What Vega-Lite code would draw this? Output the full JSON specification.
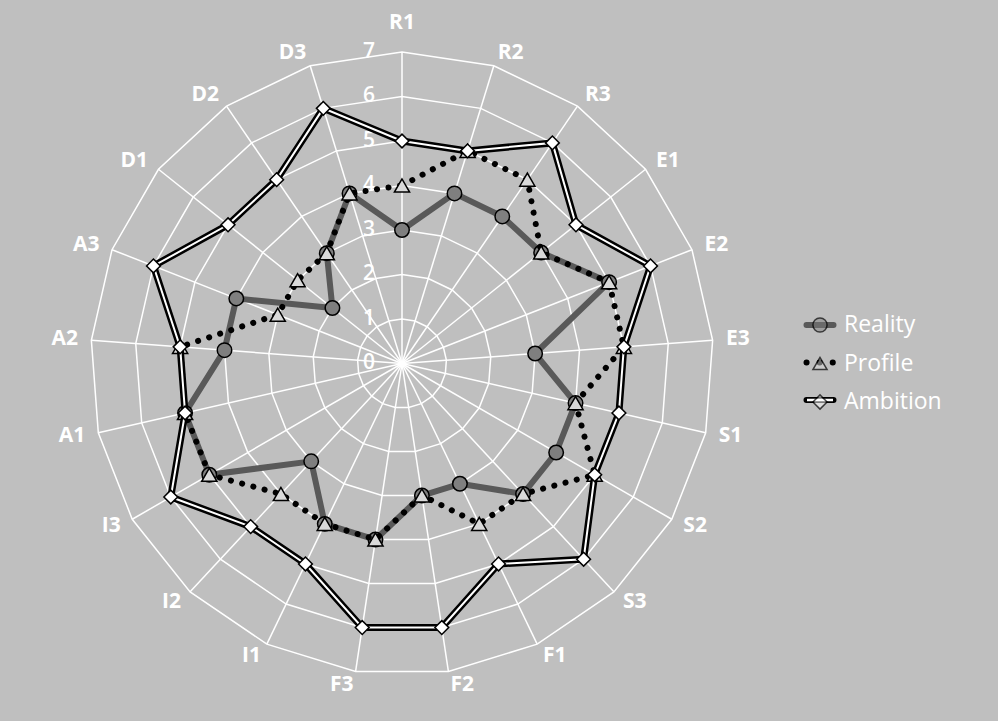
{
  "$schema": "https://vega.github.io/schema/vega-lite/v6.json",
  "width": 998,
  "height": 721,
  "autosize": {"type": "none"},
  "padding": 0,
  "background": "#bfbfbf",
  "config": {"view": {"stroke": null}},
  "datasets": {
    "main": [
      {"k": "R1", "i": 0, "Reality": 3, "Profile": 4, "Ambition": 5},
      {"k": "R2", "i": 1, "Reality": 4, "Profile": 5, "Ambition": 5},
      {"k": "R3", "i": 2, "Reality": 4, "Profile": 5, "Ambition": 6},
      {"k": "E1", "i": 3, "Reality": 4, "Profile": 4, "Ambition": 5},
      {"k": "E2", "i": 4, "Reality": 5, "Profile": 5, "Ambition": 6},
      {"k": "E3", "i": 5, "Reality": 3, "Profile": 5, "Ambition": 5},
      {"k": "S1", "i": 6, "Reality": 4, "Profile": 4, "Ambition": 5},
      {"k": "S2", "i": 7, "Reality": 4, "Profile": 5, "Ambition": 5},
      {"k": "S3", "i": 8, "Reality": 4, "Profile": 4, "Ambition": 6},
      {"k": "F1", "i": 9, "Reality": 3, "Profile": 4, "Ambition": 5},
      {"k": "F2", "i": 10, "Reality": 3, "Profile": 3, "Ambition": 6},
      {"k": "F3", "i": 11, "Reality": 4, "Profile": 4, "Ambition": 6},
      {"k": "I1", "i": 12, "Reality": 4, "Profile": 4, "Ambition": 5},
      {"k": "I2", "i": 13, "Reality": 3, "Profile": 4, "Ambition": 5},
      {"k": "I3", "i": 14, "Reality": 5, "Profile": 5, "Ambition": 6},
      {"k": "A1", "i": 15, "Reality": 5, "Profile": 5, "Ambition": 5},
      {"k": "A2", "i": 16, "Reality": 4, "Profile": 5, "Ambition": 5},
      {"k": "A3", "i": 17, "Reality": 4, "Profile": 3, "Ambition": 6},
      {"k": "D1", "i": 18, "Reality": 2, "Profile": 3, "Ambition": 5},
      {"k": "D2", "i": 19, "Reality": 3, "Profile": 3, "Ambition": 5},
      {"k": "D3", "i": 20, "Reality": 4, "Profile": 4, "Ambition": 6}
    ],
    "levels": [{"lv": 0}, {"lv": 1}, {"lv": 2}, {"lv": 3}, {"lv": 4}, {"lv": 5}, {"lv": 6}, {"lv": 7}],
    "leg": [{"series": "Reality"}, {"series": "Profile"}, {"series": "Ambition"}]
  },
  "resolve": {"scale": {"stroke": "independent", "shape": "independent", "fill": "independent"}},
  "layer": [
    {
      "data": {"name": "main"},
      "transform": [
        {"calculate": "datum.i*2*PI/21", "as": "a"},
        {"calculate": "[1,2,3,4,5,6,7]", "as": "lv"},
        {"flatten": ["lv"]},
        {"calculate": "datum.lv*sin(datum.a)", "as": "x"},
        {"calculate": "datum.lv*cos(datum.a)", "as": "y"}
      ],
      "mark": {"type": "line", "interpolate": "linear-closed", "stroke": "white", "strokeWidth": 1.5},
      "encoding": {
        "x": {"field": "x", "type": "quantitative", "scale": {"domain": [-9.0337, 13.3933], "nice": false, "zero": false}, "axis": null},
        "y": {"field": "y", "type": "quantitative", "scale": {"domain": [-8.0337, 8.1685], "nice": false, "zero": false}, "axis": null},
        "detail": {"field": "lv", "type": "nominal"},
        "order": {"field": "i", "type": "quantitative"}
      }
    },
    {
      "data": {"name": "main"},
      "transform": [
        {"calculate": "datum.i*2*PI/21", "as": "a"},
        {"calculate": "0", "as": "x"},
        {"calculate": "0", "as": "y"},
        {"calculate": "7*sin(datum.a)", "as": "ex"},
        {"calculate": "7*cos(datum.a)", "as": "ey"}
      ],
      "mark": {"type": "rule", "stroke": "white", "strokeWidth": 1.5},
      "encoding": {
        "x": {"field": "x", "type": "quantitative", "scale": {"domain": [-9.0337, 13.3933], "nice": false, "zero": false}, "axis": null},
        "y": {"field": "y", "type": "quantitative", "scale": {"domain": [-8.0337, 8.1685], "nice": false, "zero": false}, "axis": null},
        "x2": {"field": "ex"},
        "y2": {"field": "ey"}
      }
    },
    {
      "data": {"name": "main"},
      "transform": [
        {"filter": "datum.i >= 1 && datum.i <= 10"},
        {"calculate": "datum.i*2*PI/21", "as": "a"},
        {"calculate": "7.3*sin(datum.a)", "as": "x"},
        {"calculate": "7.3*cos(datum.a)", "as": "y"}
      ],
      "mark": {"type": "text", "font": "Open Sans", "fontSize": 21, "fontWeight": "bold", "fill": "white", "align": "left", "baseline": "middle"},
      "encoding": {
        "x": {"field": "x", "type": "quantitative", "scale": {"domain": [-9.0337, 13.3933], "nice": false, "zero": false}, "axis": null},
        "y": {"field": "y", "type": "quantitative", "scale": {"domain": [-8.0337, 8.1685], "nice": false, "zero": false}, "axis": null},
        "text": {"field": "k"}
      }
    },
    {
      "data": {"name": "main"},
      "transform": [
        {"filter": "datum.i >= 11"},
        {"calculate": "datum.i*2*PI/21", "as": "a"},
        {"calculate": "7.3*sin(datum.a)", "as": "x"},
        {"calculate": "7.3*cos(datum.a)", "as": "y"}
      ],
      "mark": {"type": "text", "font": "Open Sans", "fontSize": 21, "fontWeight": "bold", "fill": "white", "align": "right", "baseline": "middle"},
      "encoding": {
        "x": {"field": "x", "type": "quantitative", "scale": {"domain": [-9.0337, 13.3933], "nice": false, "zero": false}, "axis": null},
        "y": {"field": "y", "type": "quantitative", "scale": {"domain": [-8.0337, 8.1685], "nice": false, "zero": false}, "axis": null},
        "text": {"field": "k"}
      }
    },
    {
      "data": {"name": "main"},
      "transform": [
        {"filter": "datum.i == 0"},
        {"calculate": "0", "as": "x"},
        {"calculate": "7.65", "as": "y"}
      ],
      "mark": {"type": "text", "font": "Open Sans", "fontSize": 21, "fontWeight": "bold", "fill": "white", "align": "center", "baseline": "middle"},
      "encoding": {
        "x": {"field": "x", "type": "quantitative", "scale": {"domain": [-9.0337, 13.3933], "nice": false, "zero": false}, "axis": null},
        "y": {"field": "y", "type": "quantitative", "scale": {"domain": [-8.0337, 8.1685], "nice": false, "zero": false}, "axis": null},
        "text": {"field": "k"}
      }
    },
    {
      "data": {"name": "levels"},
      "transform": [{"calculate": "0", "as": "x"}],
      "mark": {"type": "text", "font": "Open Sans", "fontSize": 21, "fontWeight": 600, "fill": "white", "align": "center", "baseline": "middle", "dx": -33},
      "encoding": {
        "x": {"field": "x", "type": "quantitative", "scale": {"domain": [-9.0337, 13.3933], "nice": false, "zero": false}, "axis": null},
        "y": {"field": "lv", "type": "quantitative", "scale": {"domain": [-8.0337, 8.1685], "nice": false, "zero": false}, "axis": null},
        "text": {"field": "lv"}
      }
    },
    {
      "data": {"name": "main"},
      "transform": [
        {"calculate": "datum.i*2*PI/21", "as": "a"},
        {"calculate": "datum.Reality*sin(datum.a)", "as": "x"},
        {"calculate": "datum.Reality*cos(datum.a)", "as": "y"}
      ],
      "encoding": {
        "x": {"field": "x", "type": "quantitative", "scale": {"domain": [-9.0337, 13.3933], "nice": false, "zero": false}, "axis": null},
        "y": {"field": "y", "type": "quantitative", "scale": {"domain": [-8.0337, 8.1685], "nice": false, "zero": false}, "axis": null}
      },
      "layer": [
        {"mark": {"type": "line", "interpolate": "linear-closed", "stroke": "#595959", "strokeWidth": 6, "strokeJoin": "round"}, "encoding": {"order": {"field": "i", "type": "quantitative"}}},
        {"mark": {"type": "point", "shape": "circle", "filled": true, "fill": "#7f7f7f", "stroke": "black", "strokeWidth": 1.5, "size": 210, "opacity": 1}}
      ]
    },
    {
      "data": {"name": "main"},
      "transform": [
        {"calculate": "datum.i*2*PI/21", "as": "a"},
        {"calculate": "datum.Profile*sin(datum.a)", "as": "x"},
        {"calculate": "datum.Profile*cos(datum.a)", "as": "y"}
      ],
      "encoding": {
        "x": {"field": "x", "type": "quantitative", "scale": {"domain": [-9.0337, 13.3933], "nice": false, "zero": false}, "axis": null},
        "y": {"field": "y", "type": "quantitative", "scale": {"domain": [-8.0337, 8.1685], "nice": false, "zero": false}, "axis": null}
      },
      "layer": [
        {"mark": {"type": "line", "interpolate": "linear-closed", "stroke": "black", "strokeWidth": 6, "strokeDash": [0.1, 11.5], "strokeCap": "round"}, "encoding": {"order": {"field": "i", "type": "quantitative"}}},
        {"mark": {"type": "point", "shape": "triangle-up", "filled": true, "fill": "#d9d9d9", "stroke": "black", "strokeWidth": 1.5, "size": 230, "opacity": 1}}
      ]
    },
    {
      "data": {"name": "main"},
      "transform": [
        {"calculate": "datum.i*2*PI/21", "as": "a"},
        {"calculate": "datum.Ambition*sin(datum.a)", "as": "x"},
        {"calculate": "datum.Ambition*cos(datum.a)", "as": "y"}
      ],
      "encoding": {
        "x": {"field": "x", "type": "quantitative", "scale": {"domain": [-9.0337, 13.3933], "nice": false, "zero": false}, "axis": null},
        "y": {"field": "y", "type": "quantitative", "scale": {"domain": [-8.0337, 8.1685], "nice": false, "zero": false}, "axis": null}
      },
      "layer": [
        {"mark": {"type": "line", "interpolate": "linear-closed", "stroke": "black", "strokeWidth": 7}, "encoding": {"order": {"field": "i", "type": "quantitative"}}},
        {"mark": {"type": "line", "interpolate": "linear-closed", "stroke": "white", "strokeWidth": 2}, "encoding": {"order": {"field": "i", "type": "quantitative"}}},
        {"mark": {"type": "point", "shape": "diamond", "filled": true, "fill": "white", "stroke": "black", "strokeWidth": 1.5, "size": 190, "opacity": 1}}
      ]
    },
    {
      "data": {"name": "leg"},
      "mark": {"type": "line", "clip": true},
      "encoding": {
        "x": {"datum": 100, "type": "quantitative", "scale": {"domain": [-9.0337, 13.3933], "nice": false, "zero": false}, "axis": null},
        "y": {"datum": 100, "type": "quantitative", "scale": {"domain": [-8.0337, 8.1685], "nice": false, "zero": false}, "axis": null},
        "stroke": {
          "field": "series", "type": "nominal",
          "scale": {"domain": ["Reality", "Profile", "Ambition"], "range": ["#595959", "black", "black"]},
          "legend": {
            "orient": "none", "legendX": 803, "legendY": 308, "title": null,
            "symbolType": "stroke", "symbolSize": 729, "symbolStrokeWidth": 6,
            "labelFontSize": 34, "labelFont": "Open Sans", "labelColor": "transparent",
            "rowPadding": 3.5, "labelOffset": 8,
            "encode": {"symbols": {"update": {
              "strokeDash": {"signal": "datum.value === 'Profile' ? [0.1, 13] : [1, 0]"},
              "strokeCap": {"value": "round"}
            }}}
          }
        }
      }
    },
    {
      "data": {"name": "leg"},
      "mark": {"type": "line", "clip": true},
      "encoding": {
        "x": {"datum": 100, "type": "quantitative", "scale": {"domain": [-9.0337, 13.3933], "nice": false, "zero": false}, "axis": null},
        "y": {"datum": 100, "type": "quantitative", "scale": {"domain": [-8.0337, 8.1685], "nice": false, "zero": false}, "axis": null},
        "stroke": {
          "field": "series", "type": "nominal",
          "scale": {"domain": ["Reality", "Profile", "Ambition"], "range": ["transparent", "transparent", "white"]},
          "legend": {
            "orient": "none", "legendX": 803, "legendY": 308, "title": null,
            "symbolType": "stroke", "symbolSize": 676, "symbolStrokeWidth": 2.5,
            "labelFontSize": 34, "labelFont": "Open Sans", "labelColor": "transparent",
            "rowPadding": 3.5, "labelOffset": 8
          }
        }
      }
    },
    {
      "data": {"name": "leg"},
      "mark": {"type": "point", "filled": true, "clip": true},
      "encoding": {
        "x": {"datum": 100, "type": "quantitative", "scale": {"domain": [-9.0337, 13.3933], "nice": false, "zero": false}, "axis": null},
        "y": {"datum": 100, "type": "quantitative", "scale": {"domain": [-8.0337, 8.1685], "nice": false, "zero": false}, "axis": null},
        "shape": {
          "field": "series", "type": "nominal",
          "scale": {"domain": ["Reality", "Profile", "Ambition"], "range": ["circle", "triangle-up", "diamond"]},
          "legend": {
            "orient": "none", "legendX": 808.5, "legendY": 313.5, "title": null,
            "symbolSize": 200, "symbolStrokeColor": "black", "symbolStrokeWidth": 1.5,
            "labelFontSize": 23, "labelFont": "Open Sans", "labelColor": "white",
            "rowPadding": 14.5, "labelOffset": 12.5,
            "encode": {"symbols": {"update": {
              "stroke": {"value": "black"},
              "strokeWidth": {"value": 1.5},
              "opacity": {"value": 1}
            }}}
          }
        },
        "fill": {
          "field": "series", "type": "nominal",
          "scale": {"domain": ["Reality", "Profile", "Ambition"], "range": ["#7f7f7f", "#d9d9d9", "white"]}
        },
        "stroke": {
          "field": "series", "type": "nominal",
          "scale": {"domain": ["Reality", "Profile", "Ambition"], "range": ["black", "black", "black"]}
        }
      }
    }
  ]
}
